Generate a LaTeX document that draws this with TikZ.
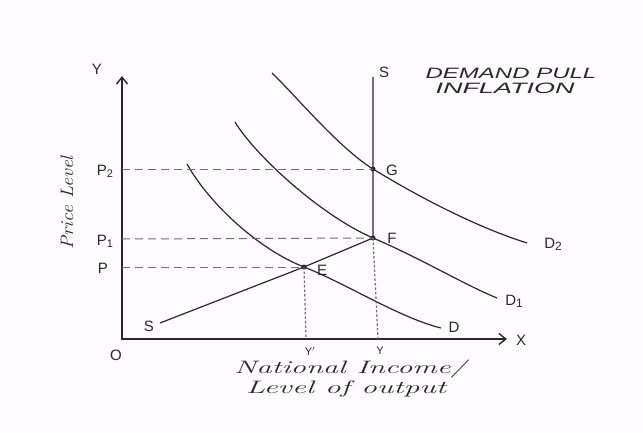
\documentclass[tikz,border=0pt]{standalone}
\usepackage{fontspec}
\usepackage{graphicx}
\usetikzlibrary{arrows.meta}
\newfontfamily\handsans{Liberation Sans}[ItalicFont=* Italic]
\definecolor{bgcol}{RGB}{253,251,253}
\definecolor{ink}{RGB}{40,40,45}
\definecolor{guide}{RGB}{110,110,115}
\begin{document}
\begin{tikzpicture}[x=1pt,y=-1pt,
  axis/.style={draw=ink, line width=1.4pt},
  curve/.style={draw=ink, line width=1.2pt},
  hguide/.style={draw=guide, line width=1pt, dash pattern=on 8pt off 5pt},
  vguide/.style={draw=guide, line width=1.2pt, dash pattern=on 2.5pt off 2pt},
  lbl/.style={inner sep=0pt, text=ink, font=\handsans\fontsize{15}{17}\selectfont},
  hand/.style={inner sep=0pt, text=ink, font=\itshape\fontsize{18}{20}\selectfont},
  dotmark/.style={circle, fill=ink, inner sep=0pt, minimum size=5pt}]
\fill[bgcol] (0,0) rectangle (643,432);
\useasboundingbox (0,0) rectangle (643,432);

% axes
\coordinate (O) at (122,339);
\coordinate (Ytop) at (122,76);
\coordinate (Xend) at (507,339);
\draw[axis, {Straight Barb[length=7pt,width=11pt]}-{Straight Barb[length=7pt,width=11pt]}] (Ytop) -- (O) -- (Xend);
\node[lbl] (ylab) at (97,69) {Y};
\node[lbl] (olab) at (116,355) {O};
\node[lbl] (xlab) at (521,340) {X};

% equilibrium points
\node[dotmark] (E) at (304,267) {};
\node[dotmark] (F) at (373,238) {};
\node[dotmark] (G) at (373,169) {};

% demand curves
\draw[curve] (187,164) .. controls (210,205) and (260,250) .. (E.center)
             .. controls (345,283) and (400,318) .. (441,328);
\draw[curve] (235,122) .. controls (255,155) and (320,215) .. (F.center)
             .. controls (420,258) and (465,285) .. (497,298);
\draw[curve] (272,73) .. controls (295,95) and (339,148) .. (G.center)
             .. controls (409,191) and (470,225) .. (527,243);

% supply curve
\coordinate (S1) at (160,323);
\coordinate (S2) at (373,77);
\draw[curve] (S1) -- (E.center) -- (F.center) -- (G.center) -- (S2);
\node[lbl] (slow) at (149,326) {S};
\node[lbl] (shigh) at (384,72) {S};

% guides
\coordinate (P2ax) at (122,169);
\coordinate (P1ax) at (122,239);
\coordinate (Pax) at (122,267);
\coordinate (Ypax) at (306,339);
\coordinate (Yax) at (378,339);
\draw[hguide] (P2ax) -- (G.center);
\draw[hguide] (P1ax) -- (F.center);
\draw[hguide] (Pax) -- (E.center);
\draw[vguide] (E.center) -- (Ypax);
\draw[vguide] (F.center) -- (Yax);

% point labels
\node[lbl] (elab) at (322,270) {E};
\node[lbl] (flab) at (392,238) {F};
\node[lbl] (glab) at (392,170) {G};
\node[lbl] (dlab) at (454,327) {D};
\node[lbl] (d1lab) at (514,301) {D\raisebox{-2pt}{\fontsize{12}{12}\selectfont 1}};
\node[lbl] (d2lab) at (553,244) {D\raisebox{-2pt}{\fontsize{12}{12}\selectfont 2}};

% price labels
\node[lbl] (p2lab) at (105,171) {P\raisebox{-2pt}{\fontsize{11}{12}\selectfont 2}};
\node[lbl] (p1lab) at (105,241) {P\raisebox{-2pt}{\fontsize{11}{12}\selectfont 1}};
\node[lbl] (plab) at (103,268) {P};

% income labels
\node[lbl, font=\handsans\fontsize{11}{12}\selectfont] (yplab) at (310,351) {Y$'$};
\node[lbl, font=\handsans\fontsize{11}{12}\selectfont] (yylab) at (380,351) {Y};

% axis titles
\node[hand] (nat) at (350,369) {\scalebox{1.7}[1]{National Income/}};
\node[hand] (lev) at (346,389) {\scalebox{1.75}[1]{Level of output}};
\node[hand, rotate=90, font=\itshape\fontsize{18}{20}\selectfont] (price) at (67,203) {\scalebox{1.1}[1]{Price Level}};

% title
\node[lbl, font=\handsans\itshape\fontsize{15}{17}\selectfont] (t1) at (511,73) {\scalebox{1.6}[1]{DEMAND PULL}};
\node[lbl, font=\handsans\itshape\fontsize{15}{17}\selectfont] (t2) at (505,88) {\scalebox{1.8}[1]{INFLATION}};
\end{tikzpicture}
\end{document}
